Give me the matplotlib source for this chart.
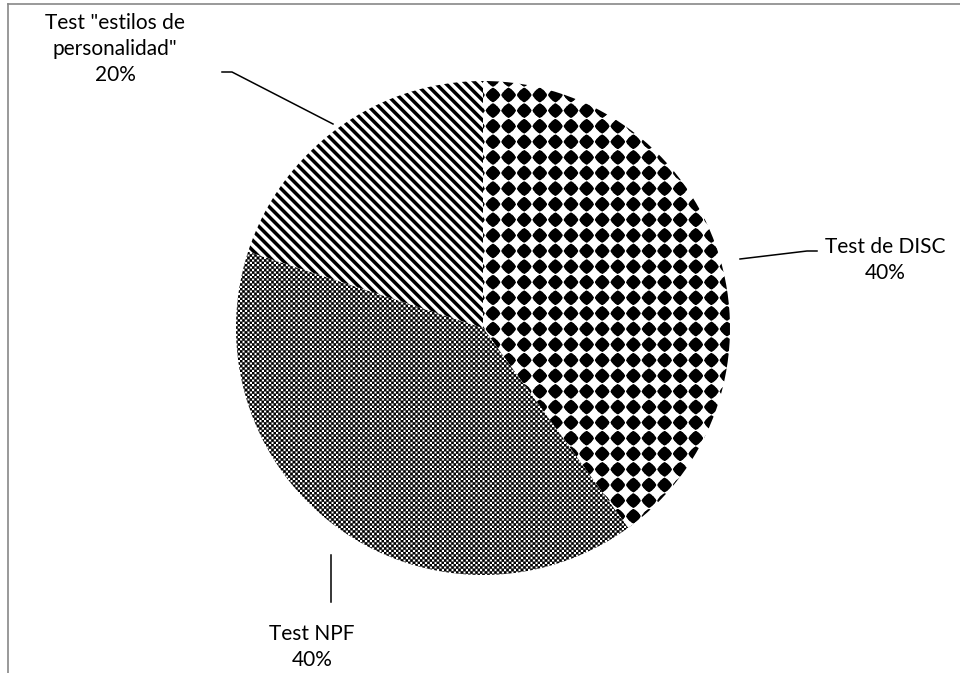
import numpy as np
import matplotlib.pyplot as plt

# instrumentos de evaluación usados
labels = ['Test de DISC', 'Test NPF', 'Test "estilos de\npersonalidad"']
shares = [40, 40, 20]

W, H = 960, 673
plt.rcParams['font.family'] = ['Lato', 'DejaVu Sans']

fig = plt.figure(figsize=(W / 100, H / 100), dpi=100)
ax = fig.add_axes([0, 0, 1, 1])


def fy(y):
    # pixel row (from top) -> data y
    return H - y


cx, cy, rad = 483, 328, 247
wedges, _ = ax.pie(shares, startangle=90, counterclock=False,
                   center=(cx, fy(cy)), radius=rad,
                   colors=['white'] * 3, wedgeprops=dict(linewidth=0))
ax.set_xlim(0, W)
ax.set_ylim(0, H)
ax.set_aspect('equal')
ax.axis('off')

# fill patterns, built on a supersampled pixel grid
ss = 3
yy, xx = np.mgrid[0:H * ss, 0:W * ss].astype(float)
xx = (xx + 0.5) / ss
yy = (yy + 0.5) / ss


def shrink(a):
    return a.reshape(H, ss, W, ss).mean(axis=(1, 3))


s = 15.6
dx = ((xx - 493) / s + 0.5) % 1 - 0.5
dy = ((yy - 95) / s + 0.5) % 1 - 0.5
d = (np.abs(dx) ** 1.3 + np.abs(dy) ** 1.3) ** (1 / 1.3)
diamonds = shrink((d >= 0.47).astype(float))

checker = shrink(((np.floor(xx / 2.4) + np.floor(yy / 2.4)) % 2).astype(float)) ** 1.8

stripes = shrink(((((xx - yy) / 10) % 1) >= 0.5).astype(float))
del xx, yy, dx, dy, d

for w, pat in zip(wedges, [diamonds, checker, stripes]):
    im = ax.imshow(pat, cmap='gray', vmin=0, vmax=1, extent=(0, W, 0, H),
                   origin='upper', interpolation='nearest', zorder=2)
    im.set_clip_path(w)

# leader lines
line_kw = dict(color='black', lw=1.1, zorder=3)
ax.plot([740, 807, 817], [fy(259), fy(251), fy(251)], **line_kw)
ax.plot([331, 331], [fy(555), fy(602)], **line_kw)
ax.plot([222, 232, 333], [fy(72), fy(72), fy(124)], **line_kw)

txt_kw = dict(ha='center', va='center', fontsize=15, color='black',
              linespacing=1.38, zorder=4)
ax.text(885, fy(260), f'{labels[0]}\n{shares[0]}%', **txt_kw)
ax.text(312, fy(647), f'{labels[1]}\n{shares[1]}%', **txt_kw)
ax.text(115, fy(49), f'{labels[2]}\n{shares[2]}%', **txt_kw)

# chart area border
ax.plot([8, W], [fy(4), fy(4)], color='#878787', lw=1.2, zorder=5)
ax.plot([8, 8], [fy(4), 0], color='#878787', lw=1.2, zorder=5)

fig.savefig('out.png', dpi=100)
